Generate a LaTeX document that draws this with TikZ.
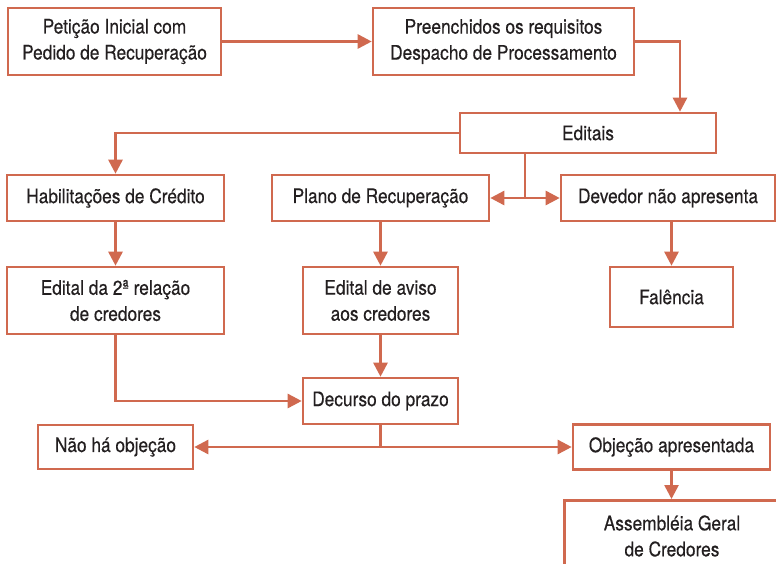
\documentclass[tikz,border=0pt]{standalone}
\usepackage{fontspec}
\setmainfont{TeX Gyre Heros}[FakeStretch=0.865,FakeBold=0.3]
\usetikzlibrary{arrows.meta}
\definecolor{edge}{HTML}{D0694F}
\definecolor{ink}{HTML}{231F20}
\begin{document}
\begin{tikzpicture}[x=1pt,y=-1pt,
  box/.style={draw=edge,line width=2.6pt,fill=white,text=ink,align=center,inner sep=0pt,
    font=\fontsize{20}{26}\selectfont},
  arr/.style={draw=edge,line width=2.6pt,-{Triangle[length=14pt,width=14pt]}},
  ln/.style={draw=edge,line width=2.6pt},
  darr/.style={draw=edge,line width=2.6pt,{Triangle[length=14pt,width=14pt]}-{Triangle[length=14pt,width=14pt]}}]
\useasboundingbox (0,0) rectangle (776,563);
\clip (0,0) rectangle (776,563);
\fill[white] (0,0) rectangle (776,563);
\node[box,minimum width=213pt,minimum height=67pt] (p1) at (114.5,41.5) {Petição Inicial com\\Pedido de Recuperação};
\node[box,minimum width=261pt,minimum height=67pt] (p2) at (503.5,41.5) {Preenchidos os requisitos\\Despacho de Processamento};
\node[box,minimum width=256pt,minimum height=40pt] (ed) at (588,133) {Editais};
\node[box,minimum width=217pt,minimum height=46pt] (hab) at (115.5,198) {Habilitações de Crédito};
\node[box,minimum width=217pt,minimum height=46pt] (plano) at (380.5,198) {Plano de Recuperação};
\node[box,minimum width=214pt,minimum height=46pt] (dev) at (668,198) {Devedor não apresenta};
\node[box,minimum width=217pt,minimum height=67pt] (e2) at (115.5,300.5) {Edital da 2ª relação\\de credores};
\node[box,minimum width=155pt,minimum height=67pt] (aviso) at (380.5,300.5) {Edital de aviso\\aos credores};
\node[box,minimum width=123pt,minimum height=60pt] (fal) at (671.5,297) {Falência};
\node[box,minimum width=155pt,minimum height=46pt] (dec) at (380.5,401) {Decurso do prazo};
\node[box,minimum width=155pt,minimum height=44pt] (nao) at (115.5,447) {Não há objeção};
\node[box,minimum width=197pt,minimum height=45pt] (obj) at (671.5,447) {Objeção apresentada};
\node[box,anchor=north west,minimum width=240pt,minimum height=100pt] (ass) at (563,499) {};
\node[text=ink,align=center,inner sep=0pt,font=\fontsize{20}{26}\selectfont] (asst) at (672,536) {Assembléia Geral\\de Credores};
\coordinate (c680) at (680,0);
\coordinate (j1) at (525,198);
\coordinate (j2) at (380.5,447);
\draw[arr] (p1.east) -- (p2.west);
\draw[arr] (p2.east) -| (ed.north -| c680);
\draw[arr] (ed.west) -| (hab.north);
\draw[ln] (ed.south -| j1) -- (j1);
\draw[arr] (j1) -- (plano.east);
\draw[arr] (j1) -- (dev.west);
\draw[arr] (hab.south) -- (e2.north);
\draw[arr] (plano.south) -- (aviso.north);
\draw[arr] (dev.south -| fal.north) -- (fal.north);
\draw[arr] (aviso.south) -- (dec.north);
\draw[arr] (e2.south) |- (dec.west);
\draw[ln] (dec.south) -- (j2);
\draw[arr] (j2) -- (nao.east);
\draw[arr] (j2) -- (obj.west);
\draw[arr] (obj.south) -- (ass.north -| obj.south);
\end{tikzpicture}
\end{document}
